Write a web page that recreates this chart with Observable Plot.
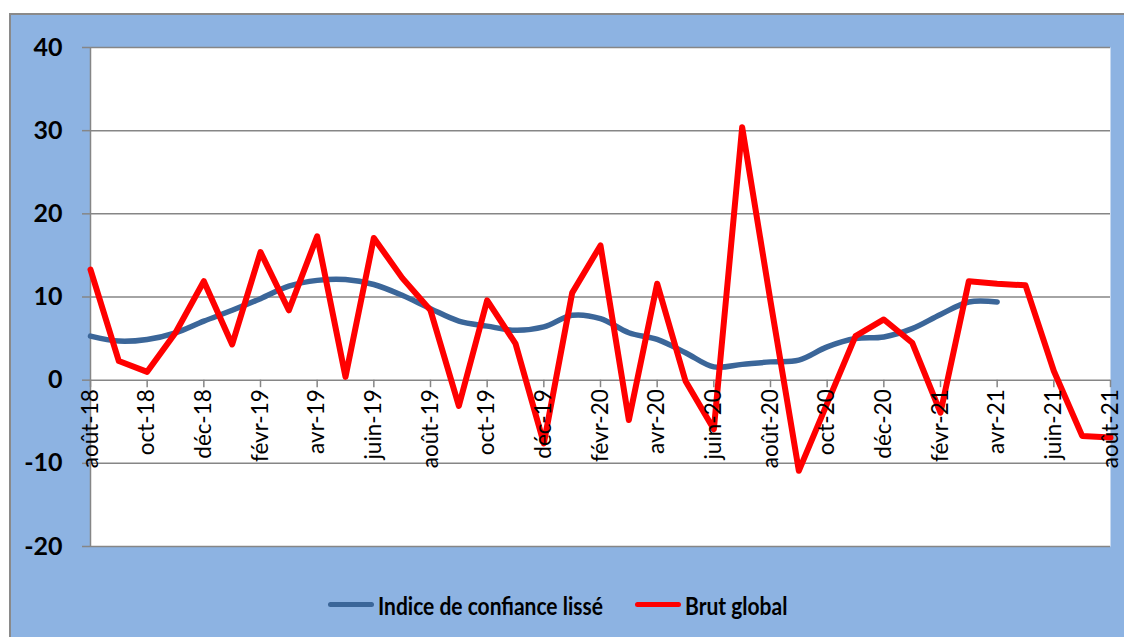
<!DOCTYPE html>
<html><head><meta charset="utf-8">
<script src="https://cdn.jsdelivr.net/npm/d3@7"></script>
<script src="https://cdn.jsdelivr.net/npm/@observablehq/plot@0.6"></script>
<style>
body{margin:0;background:#fff;}
#wrap{position:relative;width:1124px;height:637px;overflow:hidden;font-family:Lato,sans-serif;}
#frame{position:absolute;left:9px;top:13px;width:1140px;height:650px;background:#8DB3E2;border:2px solid #8a8a8a;box-sizing:border-box;}
#chart{position:absolute;left:0;top:0;}
.li{position:absolute;top:592px;height:24px;display:flex;align-items:center;font-weight:bold;font-size:21px;color:#000;white-space:nowrap;}
.sw{display:inline-block;width:46px;height:5px;border-radius:3px;margin-right:4px;}
.tx{display:inline-block;transform:scale(1,1.2);transform-origin:left center;}
</style></head>
<body>
<div id="wrap">
  <div id="frame"></div>
  <div id="chart"></div>
  <div class="li" style="left:328px"><span class="sw" style="background:#3B6699"></span><span class="tx">Indice de confiance lissé</span></div>
  <div class="li" style="left:635px"><span class="sw" style="background:#FF0000"></span><span class="tx">Brut global</span></div>
</div>
<script>
const months = ["août-18","sept-18","oct-18","nov-18","déc-18","janv-19","févr-19","mars-19","avr-19","mai-19","juin-19","juil-19","août-19","sept-19","oct-19","nov-19","déc-19","janv-20","févr-20","mars-20","avr-20","mai-20","juin-20","juil-20","août-20","sept-20","oct-20","nov-20","déc-20","janv-21","févr-21","mars-21","avr-21","mai-21","juin-21","juil-21","août-21"];
const brutGlobal = [13.3,2.3,1.0,5.7,11.9,4.3,15.4,8.4,17.3,0.4,17.1,12.3,8.4,-3.1,9.6,4.4,-7.6,10.5,16.2,-4.8,11.6,-0.1,-5.9,30.4,9.5,-10.9,-2.8,5.3,7.3,4.5,-3.9,11.9,11.6,11.4,1.1,-6.7,-6.9];
const indiceLisse = [5.3,4.7,4.9,5.7,7.1,8.4,9.8,11.3,12.0,12.1,11.5,10.2,8.6,7.1,6.5,6.0,6.4,7.8,7.4,5.7,4.9,3.3,1.6,1.9,2.2,2.4,4.0,5.0,5.2,6.2,7.9,9.4,9.4];
const yTicks = [-20,-10,0,10,20,30,40];
const labelIdx = months.map((m,i)=>i).filter(i=>i%2===0);

const gray = "#868686";
const svg = Plot.plot({
  width: 1124, height: 570,
  marginLeft: 90, marginRight: 14, marginTop: 47, marginBottom: 24,
  style: {background: "transparent", overflow: "visible"},
  x: {domain: [0, months.length - 1], axis: null},
  y: {domain: [-20, 40], axis: null},
  marks: [
    Plot.frame({fill: "white", stroke: null}),
    Plot.gridY(yTicks, {stroke: gray, strokeOpacity: 1, strokeWidth: 1.5}),
    Plot.axisY(yTicks, {tickSize: 8, tickPadding: 20, stroke: gray, strokeWidth: 1.5, fill: "#000", fontSize: 25, fontWeight: "bold", fontFamily: "Lato", label: null, tickFormat: d => String(d)}),
    Plot.ruleX([0], {stroke: gray, strokeWidth: 1.5}),
    Plot.ruleX(labelIdx, {x: d => d, y1: 0, y2: -0.9, stroke: gray, strokeWidth: 1.5}),
    Plot.line(indiceLisse, {x: (d,i) => i, y: d => d, stroke: "#3B6699", strokeWidth: 5.5, curve: "catmull-rom"}),
    Plot.line(brutGlobal, {x: (d,i) => i, y: d => d, stroke: "#FF0000", strokeWidth: 6, strokeLinejoin: "round"}),
    Plot.text(labelIdx, {x: d => d, y: 0, text: d => months[d], rotate: -90, textAnchor: "end", dy: 9, fontSize: 22.5, fontFamily: "Lato", fill: "#000", ariaLabel: "xlabels"})
  ]
});
document.getElementById("chart").appendChild(svg);
svg.querySelectorAll('g[aria-label="xlabels"] text').forEach(t => {
  t.setAttribute("transform", (t.getAttribute("transform") || "") + " scale(1.28,1)");
});
</script>
</body></html>
